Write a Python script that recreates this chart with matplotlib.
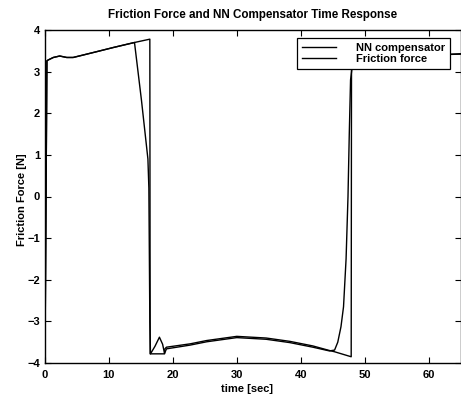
import matplotlib
matplotlib.use('Agg')
import matplotlib.pyplot as plt

plt.rcParams['font.family'] = ['Liberation Sans', 'DejaVu Sans']
plt.rcParams['font.weight'] = 'bold'

# ---- data ----
time_friction = [0.0, 0.3, 0.5, 1.3, 2.3, 3.4, 4.4, 6.0, 8.1, 10.7, 14.0, 16.4,
                 16.45, 18.7, 18.75, 19.0, 22.7, 25.3, 30.0, 34.6, 38.3, 41.9,
                 44.5, 45.3, 47.9, 47.95, 50.0, 55.0, 60.0, 65.0]
friction = [-3.85, 3.26, 3.28, 3.34, 3.375, 3.34, 3.34, 3.40, 3.48, 3.58, 3.70, 3.78,
            -3.78, -3.78, -3.66, -3.62, -3.54, -3.46, -3.36, -3.40, -3.48, -3.59,
            -3.70, -3.73, -3.85, 3.30, 3.32, 3.35, 3.39, 3.43]

time_nn = [0.0, 0.3, 0.5, 1.3, 2.3, 3.4, 4.4, 6.0, 8.1, 10.7, 14.0, 15.1,
           16.1, 16.25, 16.4, 16.5, 17.2, 17.9, 18.4, 18.7, 19.0, 22.7, 25.3,
           30.0, 34.6, 38.3, 41.9, 44.5, 45.3, 45.8, 46.3, 46.7, 47.1, 47.4, 47.6,
           47.8, 48.2, 50.0, 55.0, 60.0, 65.0]
nn = [-3.85, 3.26, 3.28, 3.34, 3.375, 3.34, 3.34, 3.40, 3.48, 3.58, 3.70, 2.3,
      0.9, 0.2, -3.0, -3.78, -3.6, -3.38, -3.55, -3.77, -3.66, -3.57, -3.49,
      -3.39, -3.43, -3.51, -3.62, -3.71, -3.69, -3.5, -3.13, -2.65, -1.5, 0.0, 1.5,
      2.8, 3.3, 3.33, 3.36, 3.40, 3.42]

x_ticks = [0, 10, 20, 30, 40, 50, 60]
y_ticks = [-4, -3, -2, -1, 0, 1, 2, 3, 4]

W, H = 461, 398
fig = plt.figure(figsize=(W / 100, H / 100), dpi=100)
ax = fig.add_axes([45 / W, 35 / H, 415.5 / W, 333 / H])

ax.plot(time_nn, nn, color='black', lw=1.0, label='NN compensator')
ax.plot(time_friction, friction, color='black', lw=1.0, label='Friction force')

ax.set_xlim(0, 65)
ax.set_ylim(-4, 4)
ax.set_xticks(x_ticks)
ax.set_yticks(y_ticks)
ax.tick_params(direction='in', top=True, right=True, length=4, width=0.8,
               labelsize=8, colors='black')
ax.tick_params(axis='x', pad=5)
ax.tick_params(axis='y', pad=3.5)
for s in ax.spines.values():
    s.set_linewidth(1.0)
    s.set_color('black')

leg = ax.legend(loc='upper right', bbox_to_anchor=(0.974, 0.976),
                borderaxespad=0, prop={'size': 8, 'weight': 'bold'}, frameon=True,
                fancybox=False, framealpha=1, edgecolor='black', handlelength=3.0,
                handletextpad=1.8, labelspacing=0.1, borderpad=0.45)
leg.get_frame().set_linewidth(0.9)

fig.text(253 / W, 1 - 15 / H, 'Friction Force and NN Compensator Time Response',
         ha='center', va='center', fontsize=8.4, fontweight='bold')
fig.text(247 / W, 1 - 389 / H, 'time [sec]', ha='center', va='center', fontsize=8,
         fontweight='bold')
fig.text(21.7 / W, 1 - 200 / H, 'Friction Force [N]', ha='center', va='center',
         rotation=90, fontsize=8, fontweight='bold')

fig.savefig('out.png', dpi=100, facecolor='white')
